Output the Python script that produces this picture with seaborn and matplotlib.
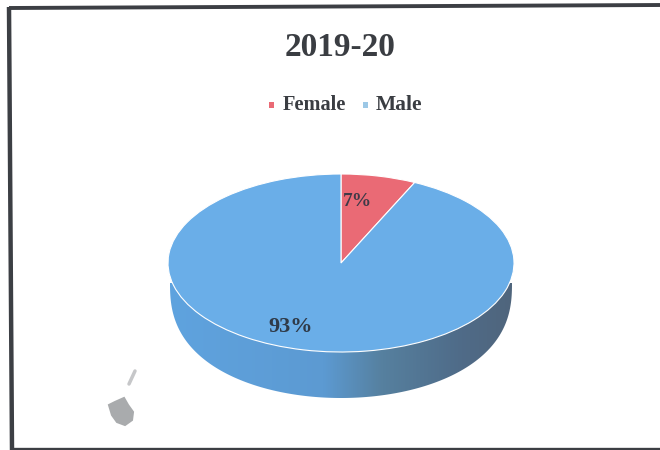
import numpy as np
import matplotlib
matplotlib.use("Agg")
import matplotlib.pyplot as plt
from matplotlib.colors import LinearSegmentedColormap
from matplotlib.patches import Polygon, Rectangle
import seaborn as sns

# Share of students by gender
title = "2019-20"
categories = ["Female", "Male"]
shares = [7, 93]
labels = ["7%", "93%"]

sns.set_theme(style="white")
plt.rcParams["font.family"] = ["Liberation Serif", "DejaVu Serif"]
plt.rcParams["font.weight"] = "bold"

W, H = 660, 450
palette = sns.color_palette(["#ea6a75", "#6aaee8"])
text_col = "#3a3d42"
frame_col = "#3c3f44"

fig = plt.figure(figsize=(W / 100, H / 100), dpi=100, facecolor="white")

# Background layer in pixel coordinates (frame, side wall, legend, text)
bg = fig.add_axes([0, 0, 1, 1])
bg.set_xlim(0, W)
bg.set_ylim(H, 0)
bg.axis("off")

# Frame runs off the right side of the page and leans slightly
bg.plot([9, 660], [8, 5], color=frame_col, lw=2.8, solid_capstyle="butt")
bg.plot([9, 12], [7, 450], color=frame_col, lw=3.2, solid_capstyle="butt")
bg.plot([11, 660], [448.5, 448.5], color=frame_col, lw=2.4, solid_capstyle="butt")

cx, cy, rx, ry = 341, 263, 173, 89

# Pie wall: its lower edge is a fuller curve than the top, giving the tilted look
t = np.linspace(0, np.pi, 200)
wall_bottom = np.c_[cx + 171 * np.cos(t), 283 + 115 * np.sin(t) ** 0.8]
shade = LinearSegmentedColormap.from_list(
    "wall",
    [(0.0, "#5fa3df"), (0.45, "#5c9ad2"), (0.62, "#56809f"),
     (0.85, "#4f6b88"), (1.0, "#50657c")],
)
clip = Polygon(wall_bottom, closed=True, fc="none", ec="none")
bg.add_patch(clip)
img = bg.imshow(
    np.linspace(0, 1, 256)[None, :],
    cmap=shade,
    extent=(cx - rx, cx + rx, cy + ry + 50, cy),
    aspect="auto",
    zorder=1,
)
img.set_clip_path(clip)
bg.set_xlim(0, W)
bg.set_ylim(H, 0)

# Stray marks near the lower left corner
smudge_x = [109, 115, 124, 128, 133, 132, 125, 117, 112]
smudge_y = [405, 402, 398, 405, 412, 420, 425, 422, 415]
bg.fill(smudge_x, smudge_y, color="#a9abad", lw=1.5)
bg.plot([129, 135], [384, 371], color="#c6c7c9", lw=2.5)

# Pie top, flattened into an ellipse
pie_ax = fig.add_axes([(cx - rx) / W, 1 - (cy + ry) / H, 2 * rx / W, 2 * ry / H])
wedges, _ = pie_ax.pie(
    shares,
    colors=palette,
    startangle=90,
    counterclock=False,
    radius=1,
    wedgeprops={"edgecolor": "white", "linewidth": 0.8},
)
pie_ax.set_aspect("auto")
pie_ax.set_xlim(-1, 1)
pie_ax.set_ylim(-1, 1)
pie_ax.patch.set_alpha(0)

bg.text(340, 47, title, ha="center", va="center", fontsize=24, color=text_col)

# Legend
bg.add_patch(Rectangle((269, 102), 5, 6, fc=palette[0], ec="none"))
bg.text(283, 105, categories[0], ha="left", va="center", fontsize=14.7, color=text_col)
bg.add_patch(Rectangle((363, 102), 5, 6, fc="#9cc8e6", ec="none"))
bg.text(376, 105, categories[1], ha="left", va="center", fontsize=15.5, color=text_col)

# Value labels sit above the pie
over = fig.add_axes([0, 0, 1, 1])
over.set_xlim(0, W)
over.set_ylim(H, 0)
over.axis("off")
over.patch.set_alpha(0)
over.text(358, 202, labels[0], ha="center", va="center", fontsize=14, color="#3f3a48")
over.text(291, 327, labels[1], ha="center", va="center", fontsize=16, color="#2f3a48")

fig.savefig("out.png", dpi=100)
